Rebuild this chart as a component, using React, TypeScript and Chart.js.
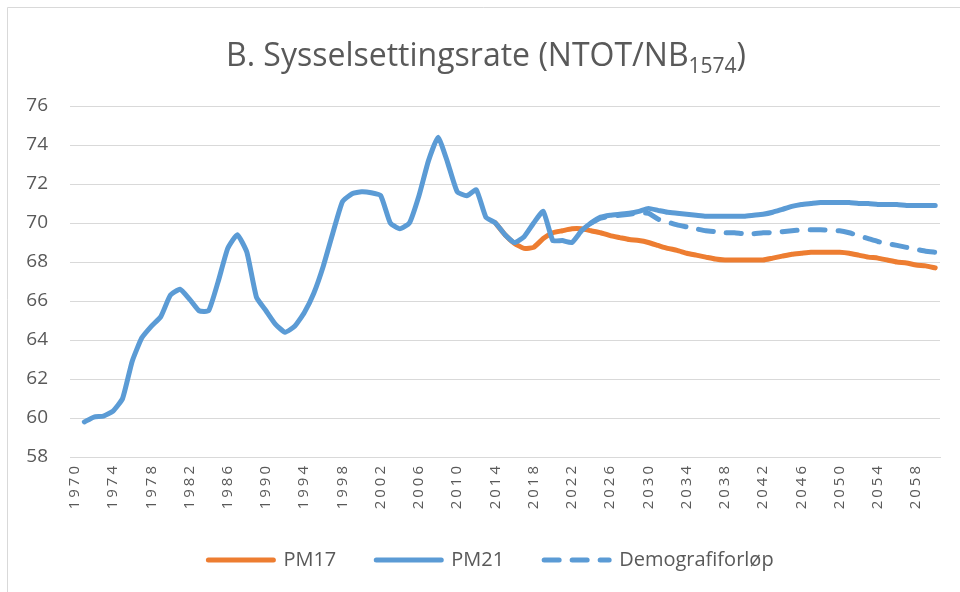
import React, { useEffect, useRef } from "react";
import { Chart, registerables } from "chart.js";

Chart.register(...registerables);

const FIRST_YEAR = 1970;
const LAST_YEAR = 2060;
const years: string[] = [];
for (let y = FIRST_YEAR; y <= LAST_YEAR; y++) years.push(String(y));

const TITLE_MAIN = "B. Sysselsettingsrate (NTOT/NB";
const TITLE_SUB = "1574";
const TITLE_END = ")";

// PM21: 1971-2060
const pm21Start = 1971;
const pm21Values = [
  59.8, 60.05, 60.1, 60.35, 61.0, 62.9, 64.1, 64.7, 65.2, // 1971-1979
  66.3, 66.6, 66.1, 65.5, 65.5, 67.0, 68.7, 69.4, 68.5, 66.2, // 1980-1989
  65.5, 64.8, 64.4, 64.7, 65.4, 66.4, 67.8, 69.5, 71.1, 71.5, // 1990-1999
  71.6, 71.55, 71.4, 70.0, 69.7, 70.0, 71.4, 73.2, 74.4, 73.1, // 2000-2009
  71.6, 71.4, 71.7, 70.3, 70.0, 69.4, 69.0, 69.3, 70.0, 70.6, // 2010-2019
  69.1, 69.1, 69.0, 69.6, 70.0, 70.3, 70.4, 70.45, 70.5, 70.6, // 2020-2029
  70.75, 70.65, 70.55, 70.5, 70.45, 70.4, 70.35, 70.35, 70.35, 70.35, // 2030-2039
  70.35, 70.4, 70.45, 70.55, 70.7, 70.85, 70.95, 71.0, 71.05, 71.05, // 2040-2049
  71.05, 71.05, 71.0, 71.0, 70.95, 70.95, 70.95, 70.9, 70.9, 70.9, // 2050-2059
  70.9, // 2060
];

// PM17: 2014-2060
const pm17Start = 2014;
const pm17Values = [
  70.0, 69.4, 68.95, 68.7, 68.75, 69.2, // 2014-2019
  69.5, 69.6, 69.7, 69.7, 69.6, 69.5, 69.35, 69.25, 69.15, 69.1, // 2020-2029
  69.0, 68.85, 68.7, 68.6, 68.45, 68.35, 68.25, 68.15, 68.1, 68.1, // 2030-2039
  68.1, 68.1, 68.1, 68.2, 68.3, 68.4, 68.45, 68.5, 68.5, 68.5, // 2040-2049
  68.5, 68.45, 68.35, 68.25, 68.2, 68.1, 68.0, 67.95, 67.85, 67.8, // 2050-2059
  67.7, // 2060
];

// Demografiforløp: 2024-2060
const demoStart = 2024;
const demoValues = [
  70.0, 70.25, 70.35, 70.4, 70.45, 70.5, // 2024-2029
  70.5, 70.2, 70.05, 69.9, 69.8, 69.7, 69.6, 69.55, 69.5, 69.5, // 2030-2039
  69.45, 69.45, 69.5, 69.5, 69.55, 69.6, 69.65, 69.65, 69.65, 69.62, // 2040-2049
  69.6, 69.5, 69.35, 69.2, 69.05, 68.95, 68.85, 68.75, 68.65, 68.55, // 2050-2059
  68.5, // 2060
];

const Y_MIN = 58;
const Y_MAX = 76;
const Y_STEP = 2;
const LABEL_EVERY = 4;

function align(start: number, values: number[]): (number | null)[] {
  return years.map((y) => {
    const i = Number(y) - start;
    return i >= 0 && i < values.length ? values[i] : null;
  });
}

const ORANGE = "#ED7D31";
const BLUE = "#5B9BD5";
const TEXT = "#595959";
const GRID = "#d9d9d9";
const FONT = '"Open Sans", "Liberation Sans", sans-serif';

const framePlugin = {
  id: "frame",
  beforeDraw(chart: any) {
    const ctx = chart.ctx;
    ctx.save();
    ctx.fillStyle = "#ffffff";
    ctx.fillRect(0, 0, chart.width, chart.height);
    ctx.strokeStyle = GRID;
    ctx.lineWidth = 1;
    ctx.beginPath();
    ctx.moveTo(7.5, chart.height);
    ctx.lineTo(7.5, 7.5);
    ctx.lineTo(chart.width, 7.5);
    ctx.stroke();
    ctx.restore();
  },
  afterDraw(chart: any) {
    const ctx = chart.ctx;
    ctx.save();
    ctx.fillStyle = TEXT;
    ctx.textBaseline = "alphabetic";
    ctx.textAlign = "left";
    const mainFont = `32px ${FONT}`;
    const subFont = `21px ${FONT}`;
    ctx.font = mainFont;
    const w1 = ctx.measureText(TITLE_MAIN).width;
    const w3 = ctx.measureText(TITLE_END).width;
    ctx.font = subFont;
    const w2 = ctx.measureText(TITLE_SUB).width;
    const total = w1 + w2 + w3;
    let x = 486 - total / 2;
    const base = 66;
    ctx.font = mainFont;
    ctx.fillText(TITLE_MAIN, x, base);
    x += w1;
    ctx.font = subFont;
    ctx.fillText(TITLE_SUB, x, base + 7);
    x += w2;
    ctx.font = mainFont;
    ctx.fillText(TITLE_END, x, base);
    ctx.restore();
  },
};

const scalePatchPlugin = {
  id: "scalePatch",
  afterUpdate(chart: any) {
    const x: any = chart.scales.x;
    const y: any = chart.scales.y;
    [x, y].forEach((s: any) => {
      if (s) s._computeLabelArea = () => undefined;
    });
    if (x && !x.__patched) {
      const orig = x.drawLabels;
      x.drawLabels = function (area: any) {
        const ctx = this.ctx;
        ctx.save();
        (ctx as any).letterSpacing = "3px";
        orig.call(this, area);
        ctx.restore();
      };
      x.__patched = true;
    }
  },
};

export default function App() {
  const ref = useRef<HTMLCanvasElement | null>(null);

  useEffect(() => {
    if (!ref.current) return;
    const chart = new Chart(ref.current, {
      type: "line",
      data: {
        labels: years,
        datasets: [
          {
            label: "PM17",
            data: align(pm17Start, pm17Values),
            borderColor: ORANGE,
            backgroundColor: ORANGE,
            borderWidth: 5,
            pointRadius: 0,
            tension: 0.15,
            borderCapStyle: "round",
            borderJoinStyle: "round",
            order: 2,
          },
          {
            label: "PM21",
            data: align(pm21Start, pm21Values),
            borderColor: BLUE,
            backgroundColor: BLUE,
            borderWidth: 5,
            pointRadius: 0,
            tension: 0.15,
            borderCapStyle: "round",
            borderJoinStyle: "round",
            order: 0,
          },
          {
            label: "Demografiforløp",
            data: align(demoStart, demoValues),
            borderColor: BLUE,
            backgroundColor: BLUE,
            borderWidth: 5,
            borderDash: [15, 13],
            pointRadius: 0,
            tension: 0.15,
            borderCapStyle: "round",
            order: 1,
          },
        ],
      },
      options: {
        animation: false,
        responsive: false,
        layout: { padding: { top: 106, left: 42, right: 20, bottom: 12 } },
        plugins: {
          title: { display: false },
          tooltip: { enabled: false },
          legend: {
            position: "bottom",
            labels: {
              usePointStyle: true,
              pointStyle: "line",
              pointStyleWidth: 65,
              boxWidth: 65,
              padding: 40,
              color: TEXT,
              font: { family: FONT, size: 20 },
              sort: (a: any, b: any) => a.datasetIndex - b.datasetIndex,
              generateLabels: (chart: any) => {
                const items = Chart.defaults.plugins.legend.labels.generateLabels(chart);
                return items.map((it: any) => {
                  const ds: any = chart.data.datasets[it.datasetIndex];
                  it.lineDash = ds.borderDash || [];
                  it.lineWidth = 5;
                  it.lineCap = "round";
                  it.strokeStyle = ds.borderColor;
                  return it;
                });
              },
            },
          },
        },
        scales: {
          x: {
            offset: true,
            grid: { display: false, drawTicks: false },
            border: { display: true, color: GRID, width: 1 },
            afterFit: (s: any) => {
              s.height = 53;
            },
            ticks: {
              autoSkip: false,
              maxRotation: 90,
              minRotation: 90,
              padding: 6,
              color: TEXT,
              font: { family: FONT, size: 15 },
              callback: function (this: any, _v: any, i: number) {
                const yr = Number(years[i]);
                return (yr - FIRST_YEAR) % LABEL_EVERY === 0 ? years[i] : "";
              },
            },
          },
          y: {
            min: Y_MIN,
            max: Y_MAX,
            afterFit: (s: any) => {
              s.width = 28;
            },
            grid: { color: GRID, lineWidth: 1, drawTicks: false },
            border: { display: false },
            ticks: {
              stepSize: Y_STEP,
              padding: 22,
              color: TEXT,
              font: { family: FONT, size: 19 },
            },
          },
        },
      },
      plugins: [framePlugin, scalePatchPlugin],
    });
    return () => chart.destroy();
  }, []);

  return (
    <div style={{ position: "fixed", left: 0, top: 0, width: 960, height: 592 }}>
      <canvas ref={ref} width={960} height={592} />
    </div>
  );
}
